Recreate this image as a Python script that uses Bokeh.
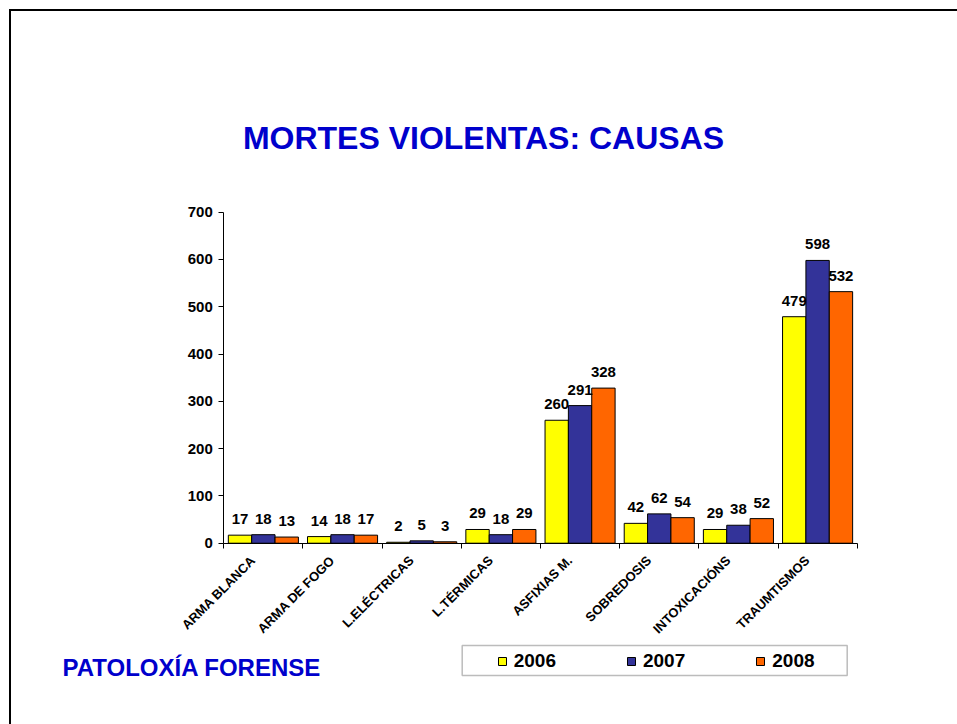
import math
from bokeh.plotting import figure
from bokeh.models import (Range1d, FixedTicker, Label, LabelSet, ColumnDataSource,
                          Legend, LegendItem, BoxAnnotation)
from bokeh.core.properties import value
from bokeh.transform import dodge
from bokeh.embed import file_html
from bokeh.resources import INLINE

# ---------------- data ----------------
categories = ["ARMA BLANCA", "ARMA DE FOGO", "L.ELÉCTRICAS", "L.TÉRMICAS",
              "ASFIXIAS M.", "SOBREDOSIS", "INTOXICACIÓNS", "TRAUMTISMOS"]
years = ["2006", "2007", "2008"]
v2006 = [17, 14, 2, 29, 260, 42, 29, 479]
v2007 = [18, 18, 5, 18, 291, 62, 38, 598]
v2008 = [13, 17, 3, 29, 328, 54, 52, 532]
colors = ["#FFFF00", "#333399", "#FF6600"]
y_ticks = [0, 100, 200, 300, 400, 500, 600, 700]
y_max = 700
title_text = "MORTES VIOLENTAS: CAUSAS"
footer_text = "PATOLOXÍA FORENSE"

FONT = "Liberation Sans"
W, H = 957, 724

n = len(categories)
centers = [i + 0.5 for i in range(n)]

# The frame fills the whole canvas; axes are pinned inside it with fixed_location.
p = figure(width=W, height=H, output_backend="svg", toolbar_location=None,
           x_range=Range1d(-2.820, n + 1.267), y_range=Range1d(-383.4, 1147.7),
           min_border=0)
p.outline_line_color = None
p.xgrid.visible = False
p.ygrid.visible = False
p.background_fill_color = "white"
p.border_fill_color = "white"

# x axis: labels under categories, tick marks at category boundaries
xa = p.xaxis[0]
xa.fixed_location = 0
xa.bounds = (0, n)
label_pos = [c - 0.13 for c in centers]
xa.ticker = FixedTicker(ticks=label_pos, minor_ticks=list(range(n + 1)))
xa.major_label_overrides = {c: lab for c, lab in zip(label_pos, categories)}
xa.major_tick_line_color = None
xa.major_tick_out = 0
xa.major_tick_in = 0
xa.minor_tick_line_color = "black"
xa.minor_tick_out = 5
xa.minor_tick_in = 0
xa.axis_line_color = "black"
xa.major_label_orientation = math.pi / 4
xa.major_label_text_font = FONT
xa.major_label_text_font_style = "bold"
xa.major_label_text_font_size = "13px"
xa.major_label_text_color = "black"
xa.major_label_standoff = 10

ya = p.yaxis[0]
ya.fixed_location = 0
ya.bounds = (0, y_max)
ya.ticker = FixedTicker(ticks=y_ticks)
ya.minor_tick_line_color = None
ya.major_tick_out = 5
ya.major_tick_in = 0
ya.axis_line_color = "black"
ya.major_tick_line_color = "black"
ya.major_label_text_font = FONT
ya.major_label_text_font_style = "bold"
ya.major_label_text_font_size = "15px"
ya.major_label_text_color = "black"
ya.major_label_standoff = 6

src = ColumnDataSource(dict(x=centers, v2006=v2006, v2007=v2007, v2008=v2008,
                            t2006=[str(v) for v in v2006],
                            t2007=[str(v) for v in v2007],
                            t2008=[str(v) for v in v2008]))

offsets = [-0.295, 0.0, 0.295]
bar_w = 0.295
renderers = []
for yr, off, col in zip(years, offsets, colors):
    r = p.vbar(x=dodge("x", off, range=p.x_range), top="v" + yr, width=bar_w,
               bottom=0, source=src, fill_color=col, line_color="black", line_width=1)
    renderers.append(r)
    ls = LabelSet(x=dodge("x", off, range=p.x_range), y="v" + yr, text="t" + yr,
                  source=src, y_offset=11, text_align="center",
                  text_baseline="alphabetic", text_font=value(FONT),
                  text_font_style="bold", text_font_size="15px", text_color="black")
    p.add_layout(ls)

legend = Legend(items=[LegendItem(label=yr, renderers=[r]) for yr, r in zip(years, renderers)],
                orientation="horizontal", location=(496.7, 52),
                border_line_alpha=0, background_fill_alpha=0,
                padding=0, margin=0, spacing=70, label_standoff=7,
                glyph_width=10, glyph_height=10, label_height=22,
                label_text_font=FONT, label_text_font_style="bold",
                label_text_font_size="19px", label_text_color="black")
p.add_layout(legend)

legend_box = BoxAnnotation(left=461.7, right=846.7, top=79, bottom=49,
                           left_units="screen", right_units="screen",
                           top_units="screen", bottom_units="screen",
                           fill_alpha=0, line_color="#222222", line_width=1.5)
p.add_layout(legend_box)

# slide frame lines (top and left)
top_line = BoxAnnotation(left=8.5, right=960, top=715.5, bottom=713.5,
                         left_units="screen", right_units="screen",
                         top_units="screen", bottom_units="screen",
                         fill_color="black", fill_alpha=1, line_alpha=0)
left_line = BoxAnnotation(left=8.5, right=10.5, top=715.5, bottom=-5,
                          left_units="screen", right_units="screen",
                          top_units="screen", bottom_units="screen",
                          fill_color="black", fill_alpha=1, line_alpha=0)
p.add_layout(top_line)
p.add_layout(left_line)

p.add_layout(Label(x=483, y=587, x_units="screen", y_units="screen", text=title_text,
                   text_align="center", text_baseline="alphabetic", text_font=FONT,
                   text_font_style="bold", text_font_size="32px", text_color="#0000CC"))
p.add_layout(Label(x=62, y=57, x_units="screen", y_units="screen", text=footer_text,
                   text_align="left", text_baseline="alphabetic", text_font=FONT,
                   text_font_style="bold", text_font_size="24px", text_color="#0000CC"))

open("out.html", "w").write(file_html(p, INLINE))
